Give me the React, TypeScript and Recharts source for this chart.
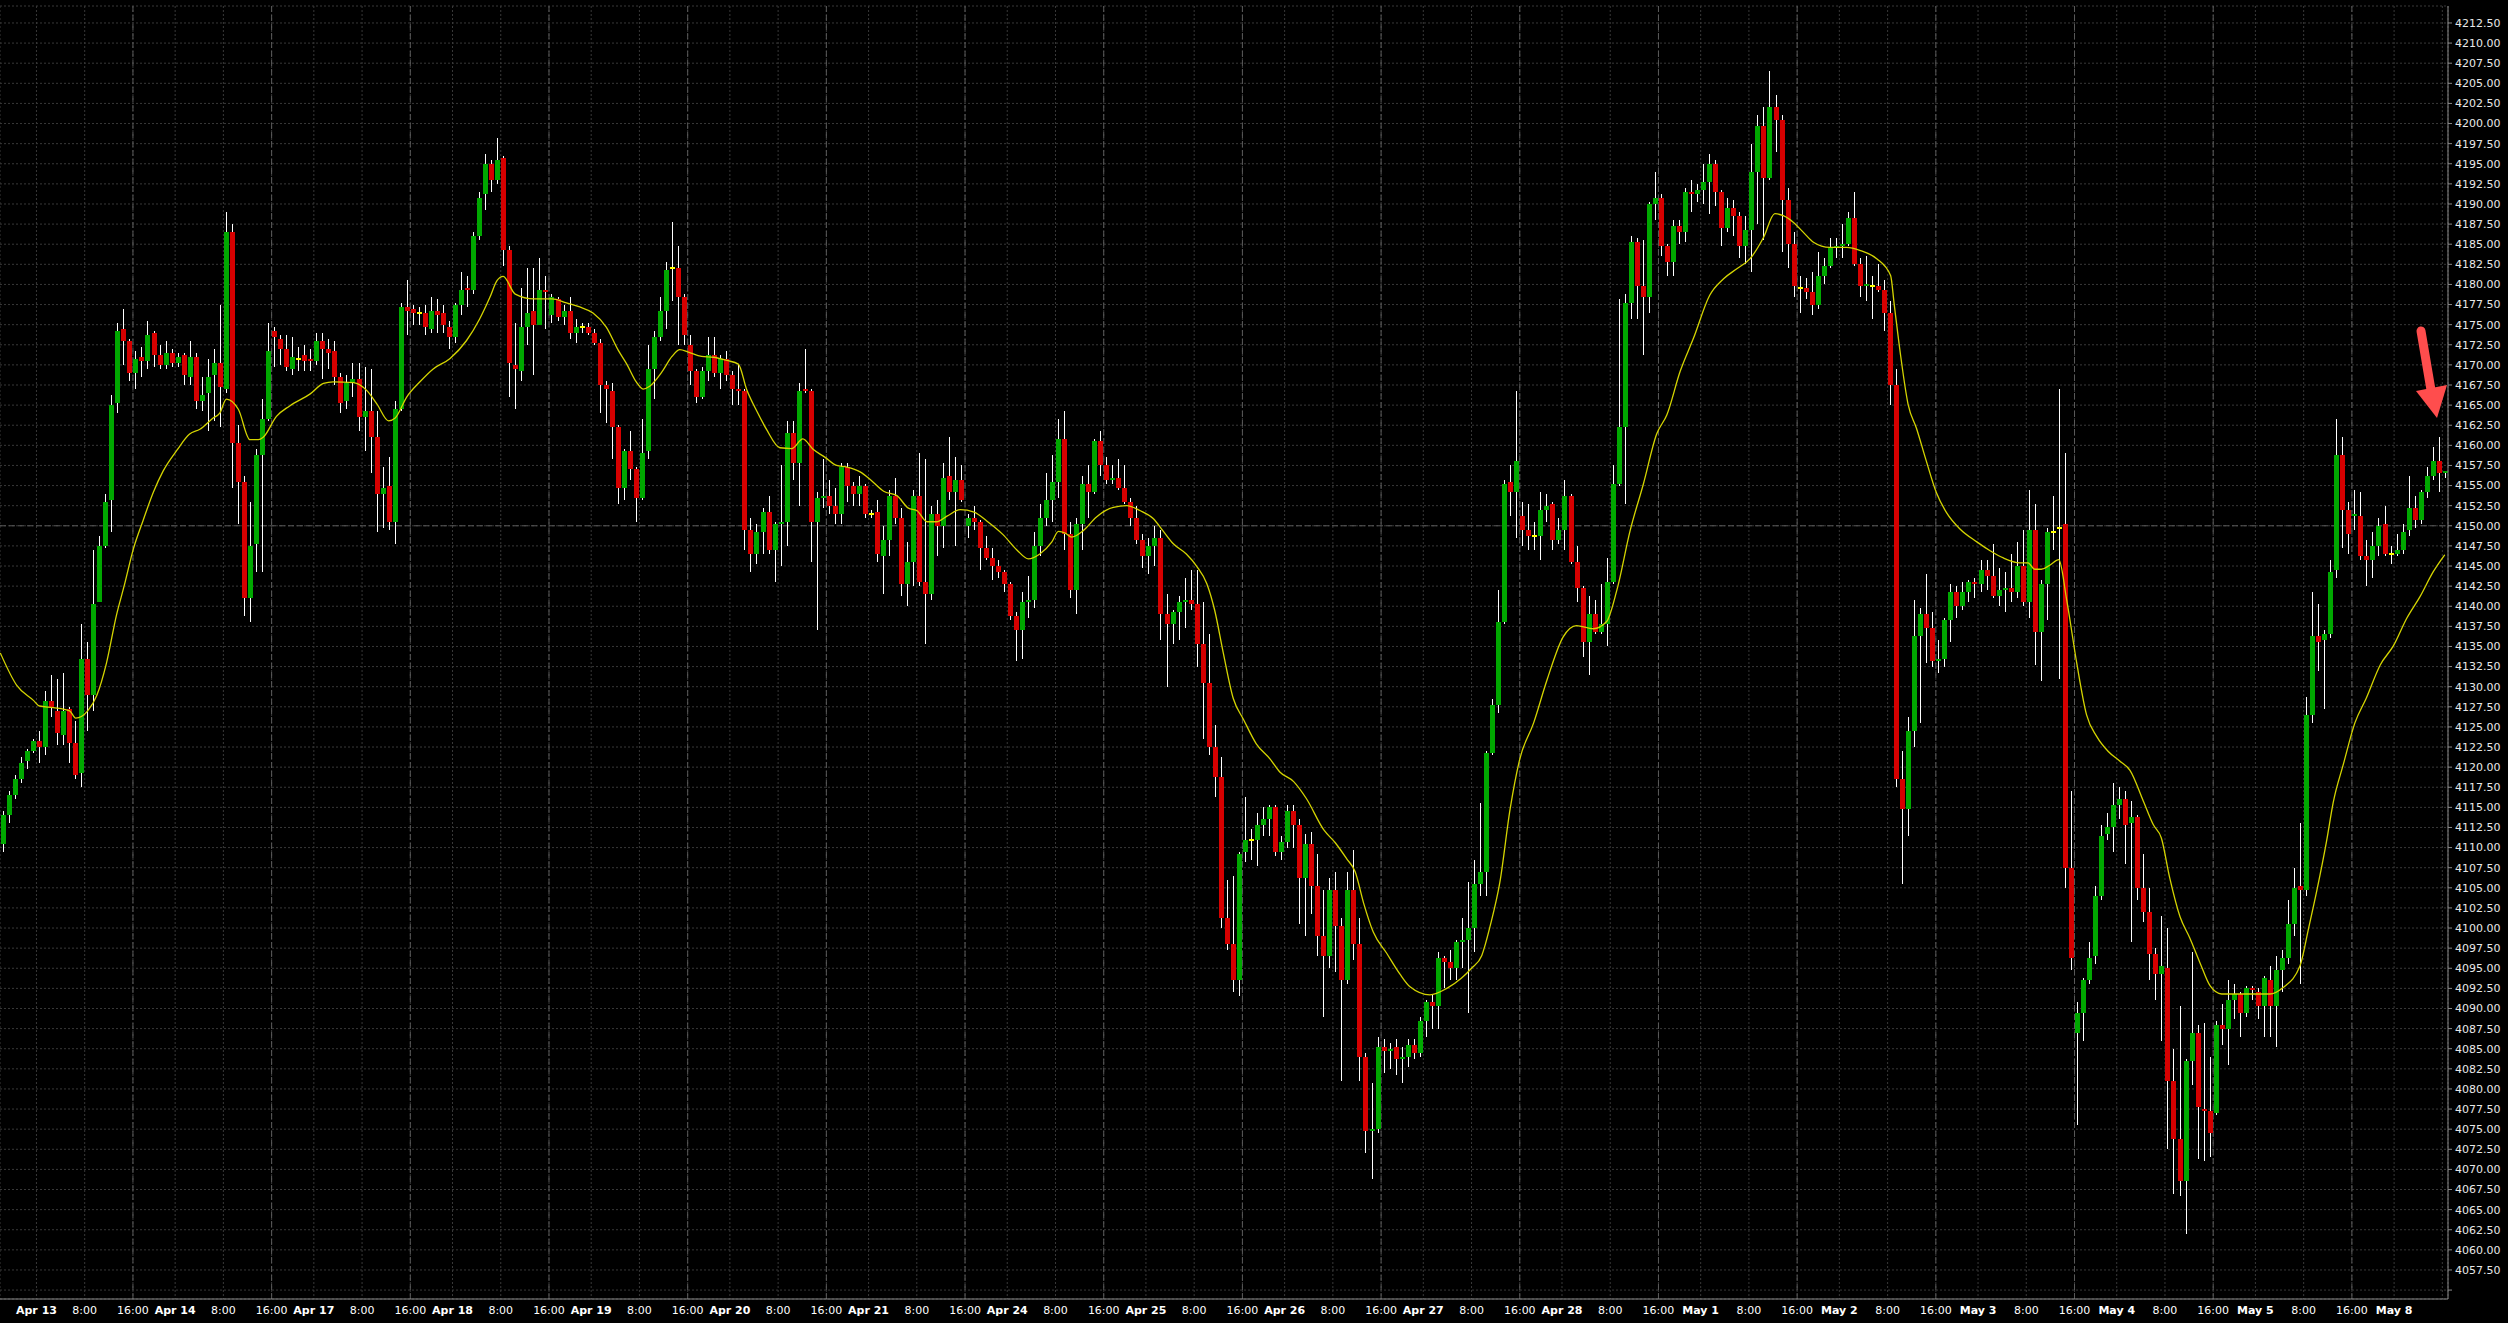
import { ComposedChart, Bar, Line, XAxis, YAxis, CartesianGrid } from 'recharts';

// one row per hourly bar: [open, high, low, close]
type Ohlc = [number, number, number, number];

const apr13: Ohlc[] = [
  [4110.5, 4114.5, 4109.5, 4114], [4114, 4117, 4113, 4116.5], [4116.5, 4119, 4116, 4118.5],
  [4118.5, 4121.25, 4118, 4120.5], [4120.75, 4122.25, 4119.75, 4122], [4122, 4123.5, 4121.75, 4123.25],
  [4123.25, 4124.5, 4120.5, 4122.5], [4122.5, 4129.5, 4121.5, 4128.25], [4128.25, 4131.5, 4126.25, 4127.5],
  [4127, 4131, 4122.75, 4124.25], [4124, 4131.75, 4122.75, 4127], [4127.25, 4127.5, 4120.5, 4123],
  [4123, 4125.75, 4118.5, 4119], [4119.25, 4137.75, 4117.5, 4133.5], [4133.5, 4135.5, 4124.5, 4129],
  [4129, 4147, 4127, 4140.25], [4140.5, 4148.75, 4140.5, 4147.5], [4147.5, 4154, 4147.25, 4153],
  [4153.25, 4166.25, 4149.25, 4165], [4165.25, 4175.25, 4164, 4174.25], [4174.5, 4177, 4170, 4173],
  [4173, 4173.25, 4168, 4169], [4169, 4171.75, 4167, 4170.75],
];
const apr14: Ohlc[] = [
  [4171, 4172.25, 4168.5, 4170.5], [4170.5, 4175.5, 4169.5, 4173.75], [4174, 4174.25, 4169.75, 4171.25],
  [4171.25, 4172.5, 4169.5, 4170], [4170, 4173, 4169.5, 4171.5], [4171.5, 4172, 4169.75, 4170.25],
  [4170.25, 4171.5, 4169.75, 4171], [4171.25, 4171.5, 4167.5, 4168.75], [4168.5, 4173, 4167.5, 4171],
  [4171, 4171.5, 4164.5, 4165.5], [4165.5, 4168.5, 4164.25, 4166.25], [4166.5, 4170.75, 4161.75, 4168.5],
  [4168.75, 4172, 4163, 4170.25], [4170.25, 4177.5, 4162.25, 4167.25], [4167, 4189, 4166.5, 4186.5],
  [4186.5, 4187.5, 4154.75, 4160.25], [4160.25, 4162.5, 4150.25, 4155.5], [4155.5, 4156.25, 4138.75, 4141],
  [4141, 4153, 4138, 4147.5], [4147.75, 4159.5, 4144.25, 4158.75], [4158.75, 4165.75, 4144.25, 4163.25],
  [4163.25, 4175.25, 4163, 4171.75], [4174.25, 4174.75, 4169.75, 4173.5],
];
const apr17: Ohlc[] = [
  [4173.25, 4173.75, 4170, 4172], [4172, 4173.75, 4169.25, 4169.75], [4169.5, 4173.5, 4168.75, 4171],
  [4170.75, 4172.25, 4169.25, 4170.75], [4171.25, 4172.5, 4169.25, 4170.5], [4170.75, 4172, 4169.25, 4170.5],
  [4170.5, 4174, 4170, 4173], [4173, 4174, 4168.25, 4172], [4172, 4173.25, 4169.5, 4171.5],
  [4171.75, 4173, 4167.5, 4168.5], [4168.5, 4169, 4164, 4165.25], [4165.5, 4168.75, 4164.5, 4167.75],
  [4167.75, 4170.25, 4166, 4168.25], [4168.25, 4170.25, 4161.75, 4163.5], [4163.5, 4169.75, 4159.25, 4164.25],
  [4164.25, 4169.5, 4156.5, 4161], [4161, 4164.25, 4149.25, 4154], [4154, 4157.25, 4149.75, 4154.75],
  [4155, 4158.5, 4149.5, 4150.5], [4150.5, 4165.5, 4147.75, 4164.5], [4164.5, 4177.75, 4164.25, 4177.25],
  [4177.25, 4180.5, 4173.75, 4176.75], [4177, 4177.5, 4175, 4176.5],
];
const apr18: Ohlc[] = [
  [4176.5, 4177.25, 4175, 4176.5], [4176.5, 4177.5, 4173.75, 4174.75], [4174.5, 4178.5, 4174, 4176.75],
  [4176.75, 4178.25, 4174, 4176.25], [4176.5, 4177.5, 4174, 4175], [4174.75, 4175.5, 4172, 4173.5],
  [4173.5, 4177.75, 4172.75, 4177.5], [4177.5, 4181.5, 4176.25, 4179.25], [4179.5, 4181, 4177.25, 4179.25],
  [4179.25, 4186.5, 4178.75, 4186], [4186, 4191.5, 4185.5, 4190.75], [4191.25, 4196.25, 4189.25, 4195],
  [4195, 4195.5, 4191.5, 4193], [4193, 4198.25, 4192.5, 4195.5], [4195.75, 4196, 4182.25, 4184.25],
  [4184.25, 4184.75, 4166, 4170.25], [4170, 4175.25, 4164.5, 4169.5], [4169.25, 4179.5, 4168, 4174.75],
  [4174.75, 4182, 4172.5, 4176.5], [4176.75, 4182, 4168.75, 4175], [4175, 4183.25, 4175, 4179.25],
  [4179.25, 4181, 4174.5, 4179], [4176.25, 4178.75, 4175.25, 4178.5],
];
const apr19: Ohlc[] = [
  [4178.25, 4178.5, 4175.5, 4176], [4176, 4177.5, 4175, 4176.75], [4176.75, 4178.5, 4173.25, 4174],
  [4174, 4175.75, 4172.75, 4174.75], [4174.75, 4175.25, 4174, 4174.75], [4174.75, 4175.25, 4173.75, 4174],
  [4174, 4174.5, 4172.5, 4172.75], [4172.75, 4173.25, 4164, 4167.5], [4167.5, 4168, 4162.75, 4167],
  [4166.75, 4167.75, 4158.25, 4162.25], [4162.25, 4162.5, 4152.75, 4154.75], [4154.75, 4159.5, 4153.25, 4159.25],
  [4159.25, 4161.75, 4155.75, 4157], [4157, 4157.25, 4150.5, 4153.5], [4153.5, 4163.25, 4153.25, 4159],
  [4159.25, 4172.5, 4158.25, 4169.5], [4169.5, 4174.25, 4165.75, 4173.5], [4173.5, 4178.5, 4173, 4176.75],
  [4176.75, 4182.75, 4174.5, 4181.75], [4182, 4187.75, 4178, 4182], [4182, 4184.75, 4172.5, 4178.5],
  [4178.5, 4178.75, 4172.5, 4173.75], [4172.5, 4173.75, 4167.5, 4169.25],
];
const apr20: Ohlc[] = [
  [4169.25, 4169.5, 4165.25, 4166], [4166, 4169.75, 4165.75, 4169.25], [4169.25, 4173.5, 4168, 4171.25],
  [4171.25, 4173.5, 4168.5, 4169], [4169, 4171.25, 4167, 4170.75], [4170.75, 4171.75, 4168, 4168.75],
  [4168.75, 4169.25, 4165, 4167], [4167, 4170, 4165, 4166.75], [4166.75, 4167, 4147, 4149.5],
  [4149.5, 4151, 4144.25, 4146.5], [4146.5, 4150.25, 4145.25, 4149.25], [4149.25, 4152.25, 4146.5, 4151.75],
  [4151.75, 4153.75, 4146.5, 4147], [4147, 4150.5, 4143, 4150.25], [4150.25, 4157.5, 4145, 4150.5],
  [4150.5, 4163, 4147.5, 4161.5], [4161.5, 4163, 4155.75, 4157.75], [4157.75, 4167.75, 4152.5, 4166.75],
  [4167, 4172, 4166.5, 4166.75], [4166.75, 4167, 4145.5, 4150.5], [4150.5, 4154.25, 4137, 4153.5],
  [4153.5, 4158.25, 4152.25, 4153.75], [4153.75, 4155.75, 4151.5, 4152.5],
];
const apr21: Ohlc[] = [
  [4152.5, 4154.75, 4150.25, 4151.5], [4151.5, 4157.75, 4150.25, 4157.25], [4157.25, 4157.75, 4153, 4155],
  [4155, 4155.5, 4152.5, 4154], [4154, 4156.25, 4152.5, 4155], [4155, 4155.25, 4151, 4151.5],
  [4151.5, 4152, 4151, 4151.5], [4151.75, 4153.25, 4145.5, 4146.5], [4146.25, 4150, 4141.5, 4148.25],
  [4148.25, 4154.5, 4146.25, 4153.75], [4153.75, 4156, 4150.25, 4151], [4151, 4152.25, 4141.25, 4142.75],
  [4142.75, 4148, 4140, 4145.5], [4145.5, 4154.5, 4142.5, 4153.75], [4153.75, 4159, 4142.5, 4143],
  [4143, 4158.25, 4135.25, 4141.5], [4141.5, 4152.5, 4140.75, 4151.5], [4151.5, 4153.25, 4146.25, 4150],
  [4150, 4157.75, 4147.25, 4156], [4156.25, 4161, 4153.25, 4154.25], [4154.25, 4158.5, 4147.5, 4155.75],
  [4155.75, 4157.5, 4153, 4153.25], [4150, 4151.5, 4148.5, 4151],
];
const apr24: Ohlc[] = [
  [4151, 4152.5, 4149.5, 4150.5], [4150.5, 4150.75, 4144.5, 4147.25], [4147.25, 4148.75, 4145.75, 4146],
  [4146, 4147.25, 4143.25, 4145], [4145, 4145.75, 4143.5, 4144.25], [4144.25, 4144.5, 4141.75, 4142.75],
  [4142.75, 4143, 4138.25, 4138.75], [4138.75, 4139.25, 4133.25, 4137], [4137, 4141.75, 4133.5, 4140.5],
  [4140.5, 4143.75, 4138.5, 4140.75], [4140.75, 4149.25, 4139.75, 4147.5], [4147.5, 4152.75, 4146.25, 4151],
  [4151, 4156.5, 4150, 4153.25], [4153.25, 4158.75, 4150.5, 4155.5], [4155.5, 4163.25, 4153.5, 4160.75],
  [4160.75, 4164.25, 4147, 4149], [4149, 4150.5, 4141, 4142], [4142, 4151, 4139, 4150.25],
  [4150.25, 4156.25, 4147, 4155.25], [4155.25, 4157.5, 4151, 4154.25], [4154.25, 4160.75, 4154, 4160.5],
  [4160.5, 4161.75, 4156.25, 4157.5], [4157.5, 4158.5, 4155.25, 4155.75],
];
const apr25: Ohlc[] = [
  [4155.75, 4157.5, 4155.25, 4156], [4156, 4158.25, 4154.5, 4154.75], [4154.75, 4157.5, 4152.75, 4153],
  [4153, 4153.5, 4150, 4151], [4151, 4152.5, 4147.75, 4148.25], [4148.25, 4149, 4144.75, 4146.25],
  [4146.25, 4148.5, 4144, 4147.5], [4147.5, 4150, 4145, 4148.5], [4148.5, 4149.5, 4135.75, 4139],
  [4139, 4141.5, 4130, 4137.75], [4137.75, 4139.5, 4135.25, 4139.25], [4139.25, 4141.25, 4135.75, 4140.5],
  [4140.5, 4143.5, 4137.25, 4140.75], [4140.75, 4144.5, 4139.5, 4140.25], [4140.25, 4144.5, 4132.5, 4135.25],
  [4135.25, 4140.5, 4123.5, 4130.5], [4130.5, 4136.5, 4121.5, 4122.5], [4122.5, 4125.25, 4116.25, 4118.75],
  [4118.75, 4121.25, 4100, 4101.25], [4101.25, 4106, 4097.25, 4098], [4098, 4106.5, 4092, 4093.5],
  [4093.5, 4109.5, 4091.5, 4109.25], [4109.5, 4116.25, 4108.25, 4111],
];
const apr26: Ohlc[] = [
  [4111, 4112.25, 4108.5, 4111], [4111, 4114.25, 4107.75, 4112.75], [4112.75, 4115, 4111.5, 4113.5],
  [4113.5, 4115.25, 4111.5, 4115], [4115, 4115.25, 4109, 4109.5], [4109.5, 4111.5, 4108.5, 4110.75],
  [4110.75, 4115.25, 4110, 4114.5], [4114.5, 4115.25, 4110, 4112.75], [4112.75, 4113.5, 4100.5, 4106.25],
  [4106.25, 4111.75, 4099, 4110.5], [4110.5, 4112, 4101.75, 4105.25], [4105.25, 4109.25, 4096.5, 4099],
  [4099, 4104.75, 4089, 4096.5], [4096.5, 4106.25, 4095, 4104.75], [4104.75, 4107, 4094.5, 4100.25],
  [4100.25, 4101.25, 4081, 4093.5], [4093.5, 4107, 4093, 4104.75], [4104.75, 4109.75, 4096, 4098],
  [4098, 4101.25, 4081, 4084], [4084, 4084.5, 4072, 4074.75], [4074.75, 4080.75, 4068.75, 4075],
  [4075, 4086.5, 4074.5, 4085.25], [4085.25, 4086.25, 4082, 4084.75],
];
const apr27: Ohlc[] = [
  [4084.75, 4085.75, 4082.5, 4085], [4085.25, 4086.25, 4081.75, 4083.75], [4083.75, 4085.25, 4080.75, 4084],
  [4084, 4086.25, 4082.75, 4085.5], [4085.5, 4086.25, 4083.75, 4084.5], [4084.5, 4089, 4084, 4088.5],
  [4088.5, 4091, 4086.5, 4090.75], [4090.75, 4091.75, 4087.5, 4090.25], [4090.25, 4097, 4087.5, 4096.25],
  [4096.25, 4096.5, 4092.5, 4095.75], [4095.75, 4097.25, 4093.5, 4095], [4095, 4098.5, 4093.5, 4098.25],
  [4098.25, 4101.25, 4095, 4098.5], [4098.5, 4105.75, 4089.5, 4100], [4100, 4108.5, 4097, 4105.5],
  [4105.5, 4115.5, 4104, 4107], [4107, 4122, 4104, 4121.75], [4121.75, 4128.5, 4121.5, 4127.75],
  [4127.75, 4142, 4126.75, 4138], [4138, 4155.75, 4137.75, 4155.25], [4155.5, 4157.5, 4151.25, 4154.25],
  [4154.25, 4166.75, 4148.5, 4158], [4151.25, 4153, 4147.5, 4149.5],
];
const apr28: Ohlc[] = [
  [4149.5, 4152.75, 4147, 4148.75], [4148.75, 4150.5, 4147, 4148.75], [4148.75, 4154.25, 4145.75, 4152],
  [4152, 4154, 4150.5, 4152.5], [4152.75, 4153, 4147, 4148.25], [4148.25, 4151, 4147.75, 4149.5],
  [4149.5, 4155.75, 4147, 4153.75], [4153.75, 4154, 4145.25, 4145.5], [4145.5, 4147.5, 4140.5, 4142.25],
  [4142.25, 4142.5, 4133.75, 4135.5], [4135.5, 4141.25, 4131.5, 4139], [4139, 4140.75, 4136.5, 4136.75],
  [4136.75, 4142.75, 4136.5, 4137.75], [4137.75, 4146, 4135, 4143], [4143, 4157.5, 4142.75, 4155.25],
  [4155.25, 4178.25, 4155, 4162.25], [4162.25, 4178.75, 4152.75, 4177.75], [4177.75, 4186, 4175.75, 4185.25],
  [4185.25, 4185.75, 4175.75, 4179.75], [4179.75, 4185.5, 4171.25, 4178.5], [4178.5, 4190.25, 4176.5, 4190],
  [4190, 4194, 4188, 4190.75], [4190.75, 4191.25, 4183.5, 4184.75],
];
const may1: Ohlc[] = [
  [4184.75, 4185, 4181, 4182.75], [4182.75, 4188, 4181, 4187.25], [4187.25, 4188, 4185, 4186.5],
  [4186.5, 4192, 4185.25, 4191.5], [4191.5, 4193, 4189, 4191.25], [4191.25, 4192.5, 4190.25, 4191.75],
  [4191.75, 4195, 4190, 4192.75], [4192.75, 4196.25, 4188.75, 4195], [4195, 4195.5, 4189.75, 4191.5],
  [4191.5, 4191.75, 4184.75, 4187], [4187, 4190.75, 4186.5, 4189.5], [4189.5, 4190.5, 4186, 4188.5],
  [4188.5, 4189, 4183.25, 4184.75], [4184.75, 4188.5, 4182.5, 4186.75], [4186.75, 4197.5, 4181.5, 4194],
  [4194, 4201, 4187.5, 4199.75], [4199.75, 4202, 4185.5, 4193.25], [4193.25, 4206.5, 4193, 4202],
  [4202, 4203.5, 4196.5, 4200.5], [4200.5, 4201, 4184, 4190.5], [4190.5, 4192, 4182, 4185],
  [4185, 4186.5, 4178.5, 4179.75], [4179.5, 4181, 4176.5, 4179.5],
];
const may2: Ohlc[] = [
  [4179.5, 4180.75, 4178.25, 4179], [4179, 4181.5, 4176.25, 4177.5], [4177.5, 4184, 4177, 4181],
  [4181, 4183.25, 4180, 4182.25], [4182.25, 4185.75, 4182, 4184.5], [4184.5, 4185.75, 4183.25, 4184.75],
  [4184.75, 4187.5, 4183.25, 4185], [4185, 4189, 4184.75, 4188.25], [4188.25, 4191.5, 4182.25, 4182.5],
  [4182.5, 4183.25, 4178.5, 4179.75], [4179.75, 4183.5, 4178, 4180], [4179.75, 4181, 4175.75, 4179.75],
  [4179.75, 4182.5, 4179, 4179.25], [4179.25, 4180.5, 4174.25, 4176.5], [4176.5, 4178, 4165, 4167.5],
  [4167.5, 4169.5, 4117.5, 4118.5], [4118.5, 4122, 4105.5, 4114.75], [4114.75, 4126.25, 4111.5, 4124.5],
  [4124.5, 4140.75, 4122.5, 4136.25], [4136.25, 4139.75, 4125.5, 4139], [4139, 4144, 4133, 4137.25],
  [4137.25, 4139.25, 4132.5, 4133.25], [4133.25, 4135.75, 4131.75, 4133.5],
];
const may3: Ohlc[] = [
  [4133.5, 4138.5, 4132.5, 4138.25], [4138.25, 4142.75, 4135.5, 4141.75], [4141.75, 4142.5, 4138.5, 4140],
  [4140, 4143, 4139.5, 4141.75], [4141.75, 4143.25, 4140.5, 4143], [4143, 4143.5, 4141, 4142.75],
  [4142.75, 4145.75, 4141.75, 4144.5], [4144.5, 4145.75, 4142, 4143.75], [4143.75, 4147.75, 4141, 4141.25],
  [4141.25, 4144.75, 4140, 4142], [4142, 4144.25, 4139.25, 4142.25], [4142.25, 4146.5, 4140.5, 4141.75],
  [4141.75, 4148, 4141, 4145], [4145, 4149.5, 4140, 4140.5], [4140.5, 4154.5, 4138.5, 4149.5],
  [4149.5, 4152.75, 4132.75, 4136.75], [4136.75, 4143.25, 4130.75, 4142.75], [4142.75, 4149.75, 4138.25, 4149.25],
  [4149.25, 4153.75, 4147, 4149.25], [4149.75, 4167, 4131, 4149.75], [4150.25, 4159, 4105, 4107.5],
  [4107.5, 4117, 4094.75, 4096.25], [4087, 4090.75, 4075.5, 4089.5],
];
const may4: Ohlc[] = [
  [4089.5, 4093.75, 4086, 4093.5], [4093.5, 4098.25, 4093, 4096.25], [4096.5, 4105.25, 4095.5, 4104],
  [4104, 4112.75, 4103.5, 4111.5], [4111.75, 4114.25, 4111, 4112.5], [4112.5, 4118, 4109.5, 4115.25],
  [4115.25, 4117.5, 4113.5, 4116], [4116, 4117, 4108, 4112.75], [4113, 4115.75, 4098.25, 4113.75],
  [4113.75, 4114, 4103.5, 4105], [4105, 4109.25, 4100.75, 4102], [4102, 4105, 4093.5, 4096.75],
  [4096.75, 4097.5, 4091, 4094.25], [4094.25, 4101.5, 4086, 4095.25], [4095, 4100, 4072.5, 4081],
  [4081, 4085, 4067, 4073.75], [4073.75, 4090.25, 4066.75, 4068.5], [4068.5, 4083.75, 4062, 4083.5],
  [4083.5, 4097, 4080.5, 4087], [4087, 4088, 4071.25, 4077.75], [4077.5, 4088.25, 4071, 4077.25],
  [4077.25, 4084, 4071.5, 4074.5], [4077, 4088.5, 4076.75, 4088],
];
const may5: Ohlc[] = [
  [4088, 4090.5, 4085.5, 4087.5], [4087.5, 4093.5, 4083, 4091], [4091, 4093, 4088.75, 4091.75],
  [4091.75, 4092, 4086.5, 4089.5], [4089.5, 4092.75, 4089, 4092.5], [4092.5, 4092.75, 4091, 4092.25],
  [4092, 4092.5, 4088.75, 4090.25], [4090.25, 4094, 4086.5, 4093.75], [4093.5, 4095.25, 4086.5, 4090.25],
  [4090.25, 4096.5, 4085.25, 4094.75], [4094.75, 4097.25, 4092, 4096.25], [4096.25, 4103.5, 4095.5, 4100.5],
  [4100.5, 4107.5, 4099, 4105], [4105.25, 4113, 4093, 4104.75], [4104.75, 4128.75, 4104, 4126.5],
  [4126.5, 4141.75, 4125.5, 4136.25], [4136.25, 4140.25, 4132, 4135.5], [4135.75, 4137, 4127.25, 4136.5],
  [4136.5, 4145.75, 4136, 4144.25], [4144.5, 4163.25, 4143.5, 4158.75], [4158.75, 4161, 4147.25, 4152],
  [4152, 4153, 4146.5, 4149], [4151.25, 4154.5, 4149.5, 4151.5],
];
const may8: Ohlc[] = [
  [4151.25, 4154.25, 4145.75, 4146.25], [4146.25, 4148.25, 4142.5, 4145.75], [4145.75, 4149.25, 4143.5, 4147.5],
  [4147.5, 4151, 4146.25, 4150], [4150.25, 4152.5, 4146.25, 4146.5], [4146.5, 4147.5, 4145.25, 4146.5],
  [4146.5, 4149, 4146.25, 4147], [4147, 4150.25, 4146.5, 4149.25], [4149.5, 4156.25, 4148.75, 4152.25],
  [4152.25, 4153.75, 4149.75, 4150.75], [4150.75, 4154.5, 4150.25, 4154.25], [4154.25, 4157.25, 4153.5, 4156.25],
  [4156.25, 4159.75, 4155.75, 4158], [4158, 4161, 4154.25, 4156.5], [4156.5, 4156.75, 4156, 4156.75],
];

const sessions = [apr13, apr14, apr17, apr18, apr19, apr20, apr21, apr24, apr25, apr26, apr27, apr28,
  may1, may2, may3, may4, may5, may8];
const dayLabels = ['Apr 13', 'Apr 14', 'Apr 17', 'Apr 18', 'Apr 19', 'Apr 20', 'Apr 21', 'Apr 24', 'Apr 25',
  'Apr 26', 'Apr 27', 'Apr 28', 'May 1', 'May 2', 'May 3', 'May 4', 'May 5', 'May 8'];
const hourLabels = ['8:00', '16:00'];

// yellow moving average as [bar index, price]
const maPoints: [number, number][] = [
  [-0.5, 4134.2], [2.2, 4130.2], [5, 4128.3], [6, 4127.6], [8.3, 4127.4], [11, 4127], [12, 4126.1], [14, 4127],
  [15.5, 4128.9], [17.1, 4132.9], [18.8, 4139], [20, 4142.4], [21.6, 4147.2], [23.2, 4150.7], [24.9, 4154.2],
  [26.5, 4156.8], [28.8, 4159.4], [30.9, 4161.4], [32.6, 4162], [34.8, 4163.4], [35.9, 4164], [37, 4165.75],
  [39, 4164.45], [40.9, 4160.7], [42.3, 4160.7], [43.1, 4161], [45.3, 4163.6], [47.5, 4164.9], [50.9, 4166.4],
  [53.1, 4167.7], [54.7, 4167.9], [58.1, 4167.8], [60.3, 4166.8], [62, 4165.1], [63.9, 4163.05], [65, 4163.4],
  [66.9, 4166], [69.1, 4167.9], [71.3, 4169.5], [74.1, 4170.8], [76.8, 4173], [79, 4175.7], [80.7, 4178.4],
  [81.9, 4180.5], [82.9, 4181], [84.9, 4178.8], [88, 4178.2], [91, 4178.2], [93.4, 4177.7], [95.6, 4177.2],
  [97.8, 4176.45], [100, 4174.7], [102, 4171.8], [103.4, 4170.1], [105, 4167.85], [106.1, 4167], [107.2, 4167.35],
  [109.2, 4169.1], [110.9, 4171.05], [112.2, 4171.9], [113.6, 4171.6], [115.8, 4171.05], [117.8, 4170.95],
  [120, 4170.55], [121.9, 4170.1], [123.3, 4166.9], [125, 4164.2], [126.6, 4161.95], [128.8, 4159.7],
  [130.8, 4159.6], [132.6, 4160.8], [134.3, 4159.5], [136.3, 4158.5], [138.2, 4157.5], [139.9, 4157.3],
  [142.1, 4156.7], [144, 4155.6], [146, 4154.3], [148.2, 4153.75], [150.1, 4152.2], [151.5, 4151.9],
  [153.2, 4150.5], [154.8, 4150.5], [156.5, 4151.2], [158.7, 4152], [161, 4151.7], [163.1, 4150.6],
  [165.8, 4148.9], [168.1, 4147], [170, 4145.9], [171.9, 4146.5], [173.9, 4148], [175, 4149.3], [176.1, 4149.1],
  [177.2, 4148.6], [179.1, 4149.4], [181.3, 4151.1], [184.1, 4152.3], [186.3, 4152.5], [188.5, 4151.9],
  [190.7, 4150.9], [192.4, 4149.3], [194, 4147.8], [196.2, 4146.5], [197.9, 4145], [199.6, 4142.8],
  [200.9, 4139.5], [202.3, 4134.3], [204, 4128.5], [205.7, 4125.9], [207.8, 4122.9], [210.1, 4121],
  [211.7, 4119.4], [214, 4118.2], [216.1, 4116.1], [219, 4112.2], [220.9, 4110.6], [222.8, 4108.6],
  [224.2, 4107], [225.6, 4103.1], [227.2, 4099.5], [229.4, 4096.9], [231.6, 4094.3], [233.3, 4092.7],
  [236.6, 4091.7], [239.4, 4092.5], [241.8, 4093.75], [243.5, 4095], [245.2, 4096.6], [246.6, 4100.3],
  [248.2, 4105.7], [249.9, 4114.8], [251.5, 4121], [253.8, 4125.5], [256, 4130.8], [258.7, 4136.2],
  [260.9, 4137.6], [263.7, 4137.2], [265.9, 4138.1], [267.6, 4142], [269.8, 4149.4], [272, 4155.2],
  [274.2, 4161.4], [275.9, 4163.8], [278.1, 4169.2], [280.3, 4173.3], [283, 4178.65], [285.3, 4180.7],
  [287.5, 4181.95], [289.7, 4183.2], [291.9, 4185.8], [293.8, 4188.8], [295.2, 4188.55], [296.9, 4187.7],
  [298.5, 4186.5], [300.2, 4185.25], [302.9, 4184.6], [305.7, 4184.6], [308, 4184.2], [310.7, 4183.2],
  [313, 4181.1], [313.6, 4177.5], [314.6, 4171.5], [315.9, 4165.1], [317.3, 4162.1], [318.9, 4158.1],
  [320.6, 4154.1], [322.3, 4151.6], [324.5, 4149.6], [327.3, 4148], [329.5, 4146.9], [331.7, 4146],
  [334.4, 4145.4], [335.8, 4145.4], [336.9, 4144.6], [338, 4144.6], [339.4, 4145.1], [340.9, 4145.8],
  [342.2, 4140.8], [343.9, 4132.8], [345.5, 4126.5], [347.2, 4123.8], [349.1, 4121.95], [351.1, 4120.7],
  [352.7, 4119.6], [354.9, 4115.8], [356.6, 4112.8], [357.9, 4111.2], [359.3, 4106.2], [361, 4101.4],
  [362.6, 4098.8], [364.3, 4095.7], [366, 4092.8], [367.9, 4091.8], [372, 4091.8], [375.9, 4091.8],
  [378.1, 4092.6], [380.9, 4095.3], [382.3, 4099.9], [383.7, 4104.7], [385.3, 4110.8], [386.4, 4115.6],
  [388.1, 4120.4], [390, 4125.5], [391.9, 4128.6], [394.2, 4132.7], [396.4, 4135.1], [398.6, 4138.5],
  [400.8, 4141.2], [403, 4144.3], [404.9, 4146.4],
];

const priceTicks = [
  4055, 4057.5, 4060, 4062.5, 4065, 4067.5, 4070, 4072.5, 4075, 4077.5, 4080, 4082.5, 4085, 4087.5, 4090,
  4092.5, 4095, 4097.5, 4100, 4102.5, 4105, 4107.5, 4110, 4112.5, 4115, 4117.5, 4120, 4122.5, 4125, 4127.5,
  4130, 4132.5, 4135, 4137.5, 4140, 4142.5, 4145, 4147.5, 4150, 4152.5, 4155, 4157.5, 4160, 4162.5, 4165,
  4167.5, 4170, 4172.5, 4175, 4177.5, 4180, 4182.5, 4185, 4187.5, 4190, 4192.5, 4195, 4197.5, 4200, 4202.5,
  4205, 4207.5, 4210, 4212.5,
];

const PER_SESSION = 23; // hourly bars per trading session (18:00 .. 16:00)
const X_DOMAIN: [number, number] = [-0.547, 405.44];
const Y_DOMAIN: [number, number] = [4053.89, 4214.61];

const candles = sessions.flat().map(([o, h, l, c], i) => ({ i, o, h, l, c }));
const maData = maPoints.map(([i, v]) => ({ i, v }));

// grid/label slots sit on the left edge of the 0:00, 8:00 and 16:00 bars
const xTicks: number[] = [];
const xTickText = new Map<number, string>();
const closeLines: number[] = [];
dayLabels.forEach((label, d) => {
  const slots: [number, string][] = [[6, label], [14, hourLabels[0]], [22, hourLabels[1]]];
  slots.forEach(([off, text]) => {
    const v = d * PER_SESSION + off - 0.5;
    if (v > X_DOMAIN[1]) return;
    xTicks.push(v);
    xTickText.set(v, v + 6 > X_DOMAIN[1] && off !== 6 ? '' : text);
    if (off === 22) closeLines.push(v);
  });
});

const GREEN = '#00a800';
const RED = '#d60000';

function CandleShape(props: any) {
  const { x, y, width, height, payload } = props;
  if (!payload || x == null || y == null) return <g />;
  const { o, h, l, c } = payload;
  const top = Math.min(y, y + height);
  const span = Math.abs(height);
  const toY = (p: number) => (h === l ? top : top + ((h - p) / (h - l)) * span);
  const bx = Math.round(x + width / 2 - 2.5);
  const yH = toY(h);
  const yL = toY(l);
  const yO = toY(o);
  const yC = toY(c);
  return (
    <g shapeRendering="crispEdges">
      <rect x={bx + 2} y={yH} width={1} height={Math.max(1, yL - yH)} fill="#ffffff" />
      {o === c ? (
        <rect x={bx} y={Math.round(yO) - 1} width={5} height={2} fill="#ffff00" />
      ) : (
        <rect x={bx} y={Math.min(yO, yC)} width={5} height={Math.max(1, Math.abs(yC - yO))}
          fill={c > o ? GREEN : RED} />
      )}
    </g>
  );
}

function TimeTick(props: any) {
  const { x, y, payload } = props;
  const text = xTickText.get(payload.value) ?? '';
  if (!text) return <g />;
  const isDate = !text.includes(':');
  return (
    <text x={x} y={y + 15} textAnchor="middle" fill="#ffffff" fontFamily="DejaVu Sans" fontSize={11}
      fontWeight={isDate ? 'bold' : 'normal'}>
      {text}
    </text>
  );
}

export default function App() {
  return (
    <div style={{ position: 'relative', width: 2508, height: 1323, background: '#000' }}>
      <style>{'body{margin:0;background:#000}'}</style>
      <ComposedChart width={2508} height={1323} data={candles} margin={{ top: 6, right: 0, bottom: 0, left: 0 }}>
        <CartesianGrid stroke="#383838" strokeDasharray="2 2" />
        <CartesianGrid stroke="#5a5a5a" strokeDasharray="6 3" horizontalValues={[4150]} verticalValues={closeLines} />
        <XAxis dataKey="i" type="number" domain={X_DOMAIN} allowDataOverflow ticks={xTicks} interval={0}
          tick={TimeTick} tickLine={false} tickSize={0} tickMargin={0} height={24}
          axisLine={{ stroke: '#8a8a8a' }} />
        <XAxis xAxisId="top" orientation="top" type="number" domain={X_DOMAIN} allowDataOverflow height={0}
          tick={false} tickLine={false} axisLine={{ stroke: '#8a8a8a' }} />
        <YAxis orientation="right" type="number" domain={Y_DOMAIN} allowDataOverflow ticks={priceTicks}
          interval={0} width={60} tickSize={4} tickMargin={3} axisLine={{ stroke: '#8a8a8a' }}
          tickLine={{ stroke: '#8a8a8a' }}
          tick={{ fill: '#e8e8e8', fontSize: 11, fontFamily: 'DejaVu Sans' }}
          tickFormatter={(v: number) => (v < 4056 ? '' : v.toFixed(2))} />
        <Bar dataKey={(d: any) => [d.l, d.h]} barSize={5} shape={(p: any) => <CandleShape {...p} />}
          isAnimationActive={false} />
        <Line data={maData} dataKey="v" type="monotone" stroke="#d4d400" strokeWidth={1.3} dot={false}
          activeDot={false} isAnimationActive={false} />
      </ComposedChart>
      <svg width={2508} height={1323} style={{ position: 'absolute', left: 0, top: 0, pointerEvents: 'none' }}>
        <line x1={2421} y1={331} x2={2431} y2={390} stroke="#ff4d4d" strokeWidth={9} strokeLinecap="round" />
        <polygon points="2416,391 2447,385 2437,418" fill="#ff4d4d" />
      </svg>
    </div>
  );
}
